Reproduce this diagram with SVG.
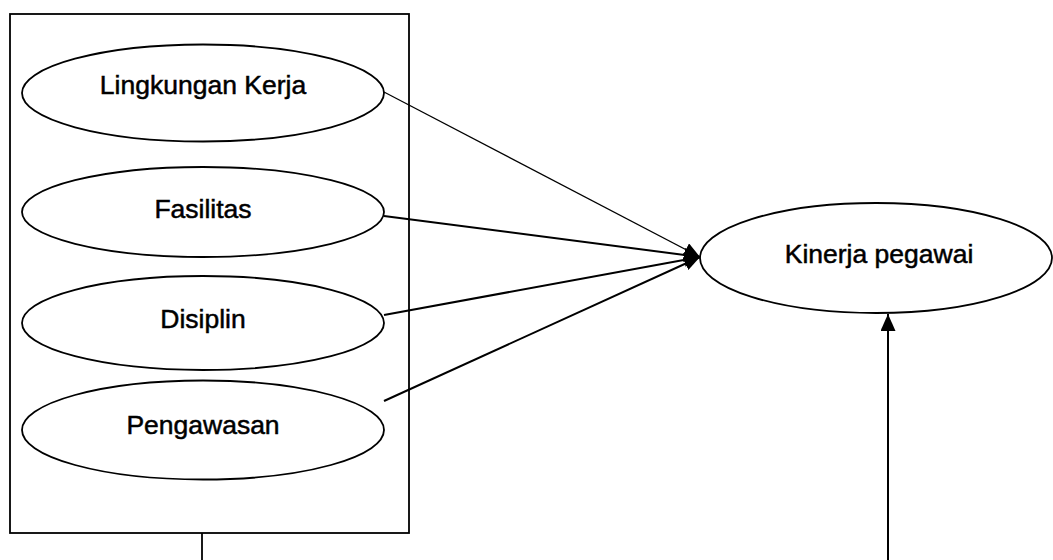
<svg xmlns="http://www.w3.org/2000/svg" width="1053" height="560" viewBox="0 0 1053 560">
<style>
.shape{fill:#fff;stroke:#000;stroke-width:1.8}
.lbl{font-family:"Liberation Sans",Arial,sans-serif;font-size:26.5px;fill:#000;stroke:#000;stroke-width:0.5;text-anchor:middle}
.conn{stroke:#000;fill:none}
</style>
<defs>
<marker id="ah" viewBox="0 0 16 14" refX="16" refY="7" markerWidth="16" markerHeight="14" markerUnits="userSpaceOnUse" orient="auto">
<path d="M0,0 L16,7 L0,14 Z" fill="#000"/>
</marker>
<marker id="ah2" viewBox="0 0 17 15" refX="17" refY="7.5" markerWidth="17" markerHeight="15" markerUnits="userSpaceOnUse" orient="auto">
<path d="M0,0 L17,7.5 L0,15 Z" fill="#000"/>
</marker>
</defs>
<g id="group-box"><rect class="shape" x="10" y="14" width="399" height="519"/></g>
<g id="node-lingkungan"><ellipse class="shape" cx="203" cy="93" rx="181" ry="48.5"/><text class="lbl" x="203" y="94">Lingkungan Kerja</text></g>
<g id="node-fasilitas"><ellipse class="shape" cx="203" cy="212" rx="181" ry="45"/><text class="lbl" x="203" y="218">Fasilitas</text></g>
<g id="node-disiplin"><ellipse class="shape" cx="203" cy="323" rx="181" ry="47"/><text class="lbl" x="203" y="328">Disiplin</text></g>
<g id="node-pengawasan"><ellipse class="shape" cx="203" cy="430" rx="181" ry="49.5"/><text class="lbl" x="203" y="434">Pengawasan</text></g>
<g id="node-kinerja"><ellipse class="shape" cx="876" cy="258" rx="176" ry="55"/><text class="lbl" x="879" y="263">Kinerja pegawai</text></g>
<g id="connectors">
<line class="conn" stroke-width="1.2" x1="384" y1="92" x2="700" y2="257" marker-end="url(#ah)"/>
<line class="conn" stroke-width="2" x1="384" y1="216" x2="700" y2="257" marker-end="url(#ah)"/>
<line class="conn" stroke-width="2" x1="384" y1="315" x2="700" y2="257" marker-end="url(#ah)"/>
<line class="conn" stroke-width="2" x1="384" y1="401" x2="700" y2="257" marker-end="url(#ah)"/>
<line class="conn" stroke-width="1.8" x1="202" y1="533" x2="202" y2="560"/>
<line class="conn" stroke-width="2" x1="888" y1="560" x2="888" y2="314" marker-end="url(#ah2)"/>
</g>
</svg>
